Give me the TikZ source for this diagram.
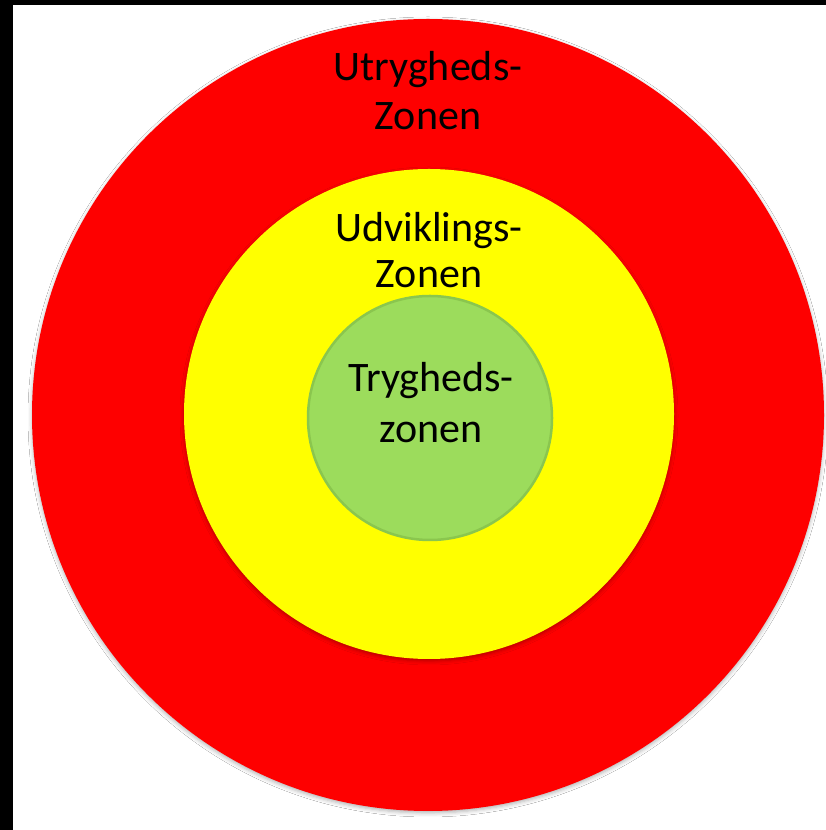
\documentclass[tikz,border=0pt]{standalone}
\usepackage{fontspec}
\setmainfont{Carlito}
\usetikzlibrary{shadows.blur}
\definecolor{zred}{HTML}{FE0000}
\definecolor{zyellow}{HTML}{FFFF00}
\definecolor{zgreen}{HTML}{9CDC5C}
\definecolor{zgreenrim}{HTML}{8AC64E}
\begin{document}
\begin{tikzpicture}[x=1pt,y=1pt,
  zone/.style={circle, inner sep=0pt, draw=none},
  zshadow/.style={blur shadow={shadow xshift=0pt, shadow yshift=-2pt, shadow blur radius=4pt, shadow opacity=30}},
  lbl/.style={font=\fontsize{42}{50}\selectfont, anchor=base, inner sep=0pt, text=black}
]
\fill[white] (0,0) rectangle (826,830);
\useasboundingbox (0,0) rectangle (826,830);
\fill[black] (0,825) rectangle (826,830);
\fill[black] (0,0) rectangle (13,830);

\node[zone, zshadow, fill=zred, minimum size=792] (outer) at (428,415) {};
\node[zone, zshadow, fill=zyellow, minimum size=490] (middle) at (429,416) {};
\node[zone, fill=zgreen, draw=zgreenrim, line width=2.5pt, minimum size=244] (inner) at (430,412) {};

\node[lbl] (t1a) at (428,749) {Utrygheds-};
\node[lbl] (t1b) at (428,700) {Zonen};
\node[lbl] (t2a) at (429,588) {Udviklings-};
\node[lbl] (t2b) at (429,542) {Zonen};
\node[lbl] (t3a) at (431,438) {Trygheds-};
\node[lbl] (t3b) at (431,387) {zonen};
\end{tikzpicture}
\end{document}
